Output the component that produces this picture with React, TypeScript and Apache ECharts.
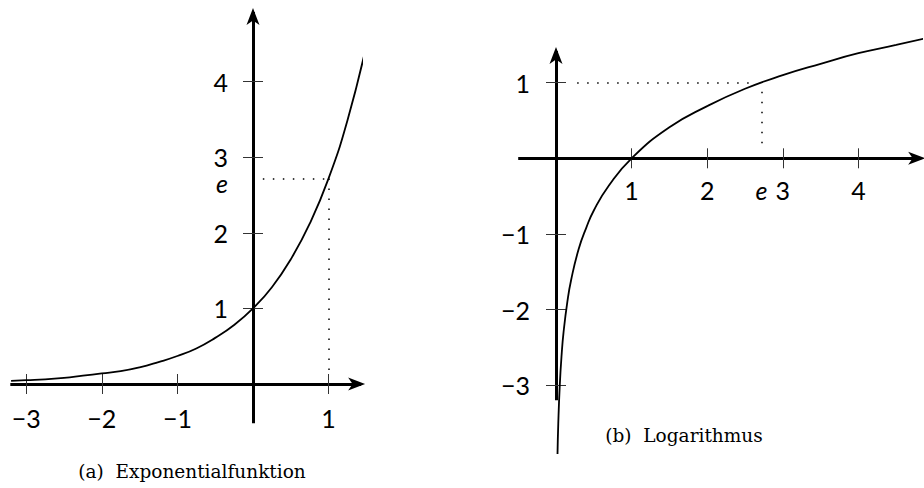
import React, { useEffect, useRef } from 'react';
import * as echarts from 'echarts';

// ---------- data ----------
const E = 2.71828;

// (a) exponential curve
const expX = [-3.2, -3, -2.75, -2.5, -2.25, -2, -1.75, -1.5, -1.25, -1, -0.75, -0.5, -0.25, 0, 0.25, 0.5, 0.75, 1, 1.25, 1.5];
const expY = [0.04, 0.05, 0.06, 0.08, 0.11, 0.14, 0.17, 0.22, 0.29, 0.37, 0.47, 0.61, 0.78, 1, 1.28, 1.65, 2.12, 2.72, 3.49, 4.48];

// (b) logarithm curve
const lnX = [0.02, 0.03, 0.05, 0.075, 0.1, 0.15, 0.2, 0.3, 0.4, 0.5, 0.7, 1, 1.5, 2, 2.5, 3, 3.5, 4, 4.5, 4.9];
const lnY = [-3.91, -3.51, -3.0, -2.59, -2.3, -1.9, -1.61, -1.2, -0.92, -0.69, -0.36, 0, 0.41, 0.69, 0.92, 1.1, 1.25, 1.39, 1.5, 1.59];

// ticks and labels
const expXTicks = [-3, -2, -1, 1];
const expYTicks = [1, 2, 3, 4];
const expYLabels = [1, 2, E, 3, 4];
const lnXTicks = [1, 2, 3, 4];
const lnXLabels = [1, 2, E, 3, 4];
const lnYTicks = [-3, -2, -1, 1];

// axis ranges
const expRangeX = [-3.21, 1.43];
const expRangeY = [-0.52, 4.92];
const lnRangeX = [-0.5, 4.83];
const lnRangeY = [-3.2, 1.42];

// dotted guides [from, to]
const expGuide = [
  [[0.13, E], [1, E]],
  [[1, E], [1, 0.13]],
];
const lnGuide = [
  [[0.28, 1], [2.6, 1]],
  [[E, 0.88], [E, 0.14]],
];

const captionA = '(a)  Exponentialfunktion';
const captionB = '(b)  Logarithmus';

// ---------- layout ----------
const S = 75.6; // px per unit (both axes, both plots)
const originA = [253, 384];
const originB = [556, 158.3];

const ARROW = 'path://M6.5,0 L13,17 L6.5,12.5 L0,17 Z';
const LABEL_FONT = 'Lato';
const CAPTION_FONT = 'DejaVu Serif';

function gridFor(o: number[], rx: number[], ry: number[]) {
  return {
    left: o[0] + rx[0] * S,
    top: o[1] - ry[1] * S,
    width: (rx[1] - rx[0]) * S,
    height: (ry[1] - ry[0]) * S,
    containLabel: false,
    outerBoundsMode: 'none',
  };
}

const isE = (v: number) => Math.abs(v - E) < 1e-4;
const fmt = (v: number) => (isE(v) ? 'e' : v < 0 ? '\u2212' + Math.abs(v) : String(v));

const tickStyle = { color: '#333', width: 1 };
const mainLine = {
  show: true,
  onZero: false,
  symbol: ['none', ARROW],
  symbolSize: [13, 17],
  symbolOffset: [0, -4.5],
  lineStyle: { color: '#000', width: 3, cap: 'butt' },
};
const hiddenLine = { show: false, onZero: false };

const labelBase = {
  fontFamily: LABEL_FONT,
  fontSize: 25,
  lineHeight: 20,
  color: '#000',
  showMinLabel: true,
  showMaxLabel: true,
  hideOverlap: false,
};

export default function App() {
  const ref = useRef<HTMLDivElement>(null);

  useEffect(() => {
    if (!ref.current) return;
    const chart = echarts.init(ref.current, null, { renderer: 'svg' });

    const expData = expX.map((x, i) => [x, expY[i]]);
    const lnData = lnX.map((x, i) => [x, lnY[i]]);

    const guideLine = (g: number[][][]) => ({
      silent: true,
      symbol: ['none', 'none'],
      label: { show: false },
      lineStyle: { color: '#000', width: 1.5, type: [1.5, 8.5], cap: 'butt' },
      emphasis: { disabled: true },
      data: g.map(([a, b]) => [{ coord: a }, { coord: b }]),
    });

    // offsets that bring each axis from the grid edge onto the other axis' zero
    const offBottom = (ry: number[]) => ry[0] * S; // negative -> inward
    const offTop = (ry: number[]) => -ry[1] * S;
    const offLeft = (rx: number[]) => rx[0] * S;
    const offRight = (rx: number[]) => -rx[1] * S;

    const option: any = {
      animation: false,
      backgroundColor: '#fff',
      title: [
        {
          text: captionA,
          left: 192,
          top: 462,
          textAlign: 'center',
          padding: 0,
          textStyle: { fontFamily: CAPTION_FONT, fontSize: 18.5, fontWeight: 'normal', color: '#000' },
        },
        {
          text: captionB,
          left: 684,
          top: 426,
          textAlign: 'center',
          padding: 0,
          textStyle: { fontFamily: CAPTION_FONT, fontSize: 18.5, fontWeight: 'normal', color: '#000' },
        },
      ],
      grid: [gridFor(originA, expRangeX, expRangeY), gridFor(originB, lnRangeX, lnRangeY)],
      xAxis: [
        {
          gridIndex: 0,
          type: 'value',
          position: 'bottom',
          offset: offBottom(expRangeY),
          min: expRangeX[0],
          max: expRangeX[1],
          axisLine: mainLine,
          axisTick: { show: true, customValues: expXTicks, length: 10, lineStyle: tickStyle },
          axisLabel: { ...labelBase, customValues: expXTicks, margin: 24, formatter: fmt },
          splitLine: { show: false },
        },
        {
          gridIndex: 0,
          type: 'value',
          position: 'top',
          offset: offTop(expRangeY),
          min: expRangeX[0],
          max: expRangeX[1],
          axisLine: hiddenLine,
          axisTick: { show: true, customValues: expXTicks, length: 10, lineStyle: tickStyle },
          axisLabel: { show: false },
          splitLine: { show: false },
        },
        {
          gridIndex: 1,
          type: 'value',
          position: 'bottom',
          offset: offBottom(lnRangeY),
          min: lnRangeX[0],
          max: lnRangeX[1],
          axisLine: mainLine,
          axisTick: { show: true, customValues: lnXTicks, length: 10, lineStyle: tickStyle },
          axisLabel: {
            ...labelBase,
            customValues: lnXLabels,
            margin: 22,
            formatter: (v: number) => (isE(v) ? '{ei|e}' : fmt(v)),
            rich: { ei: { fontFamily: LABEL_FONT, fontSize: 25, lineHeight: 20, fontStyle: 'italic', color: '#000' } },
          },
          splitLine: { show: false },
        },
        {
          gridIndex: 1,
          type: 'value',
          position: 'top',
          offset: offTop(lnRangeY),
          min: lnRangeX[0],
          max: lnRangeX[1],
          axisLine: hiddenLine,
          axisTick: { show: true, customValues: lnXTicks, length: 10, lineStyle: tickStyle },
          axisLabel: { show: false },
          splitLine: { show: false },
        },
      ],
      yAxis: [
        {
          gridIndex: 0,
          type: 'value',
          position: 'left',
          offset: offLeft(expRangeX),
          min: expRangeY[0],
          max: expRangeY[1],
          axisLine: mainLine,
          axisTick: { show: true, customValues: expYTicks, length: 10, lineStyle: tickStyle },
          axisLabel: {
            ...labelBase,
            customValues: expYLabels,
            margin: 25,
            formatter: (v: number) => (isE(v) ? '{e|e}' : fmt(v)),
            rich: {
              e: {
                fontFamily: LABEL_FONT,
                fontSize: 25,
                fontStyle: 'italic',
                lineHeight: 13,
                color: '#000',
                padding: [9, 0, 0, 0],
              },
            },
          },
          splitLine: { show: false },
        },
        {
          gridIndex: 0,
          type: 'value',
          position: 'right',
          offset: offRight(expRangeX),
          min: expRangeY[0],
          max: expRangeY[1],
          axisLine: hiddenLine,
          axisTick: { show: true, customValues: expYTicks, length: 10, lineStyle: tickStyle },
          axisLabel: { show: false },
          splitLine: { show: false },
        },
        {
          gridIndex: 1,
          type: 'value',
          position: 'left',
          offset: offLeft(lnRangeX),
          min: lnRangeY[0],
          max: lnRangeY[1],
          axisLine: mainLine,
          axisTick: { show: true, customValues: lnYTicks, length: 10, lineStyle: tickStyle },
          axisLabel: { ...labelBase, customValues: lnYTicks, margin: 26, formatter: fmt },
          splitLine: { show: false },
        },
        {
          gridIndex: 1,
          type: 'value',
          position: 'right',
          offset: offRight(lnRangeX),
          min: lnRangeY[0],
          max: lnRangeY[1],
          axisLine: hiddenLine,
          axisTick: { show: true, customValues: lnYTicks, length: 10, lineStyle: tickStyle },
          axisLabel: { show: false },
          splitLine: { show: false },
        },
      ],
      series: [
        {
          name: 'exp',
          type: 'line',
          xAxisIndex: 0,
          yAxisIndex: 0,
          data: expData,
          clip: false,
          smooth: 0.5,
          symbol: 'none',
          showSymbol: false,
          lineStyle: { color: '#000', width: 1.8 },
          markLine: guideLine(expGuide),
          z: 3,
        },
        {
          name: 'ln',
          type: 'line',
          xAxisIndex: 2,
          yAxisIndex: 2,
          data: lnData,
          clip: false,
          smooth: 0.5,
          symbol: 'none',
          showSymbol: false,
          lineStyle: { color: '#000', width: 1.8 },
          markLine: guideLine(lnGuide),
          z: 3,
        },
      ],
    };

    chart.setOption(option);
    return () => chart.dispose();
  }, []);

  return (
    <div
      ref={ref}
      style={{ position: 'fixed', left: 0, top: 0, width: 924, height: 488, background: '#fff' }}
    />
  );
}
